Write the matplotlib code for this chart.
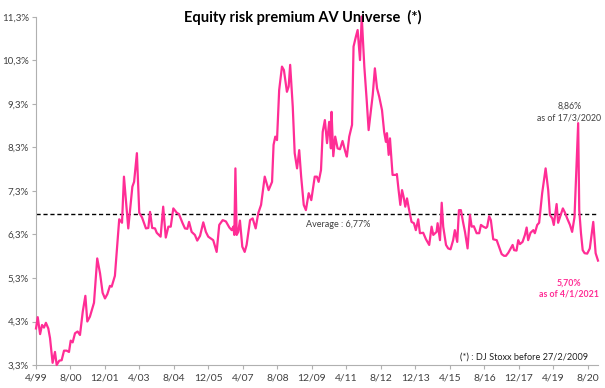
import matplotlib
matplotlib.use("Agg")
import matplotlib.pyplot as plt

plt.rcParams['font.family'] = ['Lato', 'DejaVu Sans']

# months since April 1999, and equity risk premium (%)
months = [0, 0.8, 1.9, 2.8, 3.7, 4.6, 5.7, 6.5, 7.7, 8.8, 9.6, 10.8, 11.9, 13.0, 14.2,
          15.3, 16.1, 17.0, 18.1, 19.3, 20.4, 21.7, 22.9, 23.8, 25.0, 26.9, 28.4, 29.7,
          30.9, 32.0, 33.1, 34.3, 35.1, 36.6, 38.6, 39.9, 40.8, 42.8, 44.7, 45.5, 46.8,
          47.9, 49.2, 51.0, 52.1, 52.9, 53.9, 55.2, 56.0, 57.8, 59.0, 60.2, 61.4, 62.5,
          63.7, 65.3, 66.3, 68.0, 69.1, 70.2, 71.0, 72.2, 73.7, 74.8, 76.1, 77.6, 78.8,
          79.9, 82.2, 83.8, 85.0, 86.6, 88.1, 89.7, 90.8, 91.5, 92.0, 92.5, 93.1, 93.8,
          94.6, 95.7, 96.8, 97.7, 99.3, 100.5, 101.9, 103.1, 104.4, 106.1, 107.9, 109.5,
          110.2, 111.0, 111.8, 112.8, 114.1, 115.0, 116.4, 117.2, 117.9, 119.1, 120.0,
          121.1, 122.1, 123.0, 124.2, 125.2, 126.5, 127.7, 129.3, 130.3, 131.1, 132.2,
          133.0, 134.0, 135.0, 136.0, 136.8, 137.1, 137.9, 138.8, 139.9, 141.0, 142.2,
          143.5, 144.2, 145.3, 146.6, 147.3, 148.4, 149.2, 150.3, 151.1, 152.3, 153.4,
          154.3, 155.4, 156.2, 157.2, 158.2, 159.2, 160.5, 161.5, 162.3, 162.8, 163.6,
          164.2, 165.4, 167.0, 167.4, 168.2, 169.0, 169.8, 170.5, 171.3, 172.1, 173.1,
          174.2, 175.3, 176.2, 177.3, 178.1, 179.6, 180.9, 182.4, 183.5, 184.3, 185.8,
          186.3, 187.4, 188.2, 188.9, 190.2, 191.2, 192.3, 193.5, 194.3, 195.4, 196.2,
          197.1, 198.2, 199.0, 200.2, 201.3, 202.1, 203.1, 204.4, 205.6, 206.4, 207.5,
          208.7, 209.3, 210.2, 211.0, 212.1, 213.7, 214.9, 216.0, 217.1, 218.0, 219.1,
          220.2, 221.1, 221.8, 222.9, 223.7, 224.5, 225.7, 226.8, 227.6, 228.3, 229.4,
          230.7, 231.4, 232.5, 233.4, 234.8, 236.4, 237.6, 238.4, 239.5, 240.2, 241.5,
          242.2, 243.4, 244.4, 245.3, 246.4, 247.7, 248.7, 249.8, 251.5, 252.0, 252.8,
          253.6, 254.5, 255.7, 256.9, 258.5, 259.6, 260.7]
erp = [4.14, 4.40, 4.01, 4.22, 4.16, 4.27, 4.14, 3.92, 3.35, 3.60, 3.30, 3.40, 3.41, 3.63,
       3.63, 3.60, 3.86, 3.82, 4.03, 4.07, 3.99, 4.53, 4.89, 4.30, 4.41, 4.73, 5.75, 5.41,
       4.96, 4.83, 4.93, 5.12, 5.10, 5.35, 6.65, 6.57, 7.63, 6.44, 7.40, 7.51, 8.17,
       6.80, 6.69, 6.44, 6.45, 6.82, 6.45, 6.44, 6.34, 6.25, 6.94, 6.23, 6.48, 6.48,
       6.90, 6.80, 6.77, 6.56, 6.44, 6.43, 6.59, 6.36, 6.29, 6.16, 6.27, 6.58, 6.36,
       6.25, 6.17, 5.90, 6.52, 6.63, 6.60, 6.46, 6.40, 6.48, 6.29, 7.82, 6.29, 6.36,
       6.62, 6.02, 5.90, 6.06, 6.63, 6.67, 6.44, 6.79, 6.98, 7.63, 7.32, 7.51,
       8.36, 8.55, 8.47, 9.62, 10.16, 10.08, 9.58, 9.70, 10.20, 9.24, 8.17,
       7.82, 8.24, 7.63, 6.98, 6.86, 7.25, 7.09, 7.63, 7.63, 7.51, 7.78,
       8.66, 8.93, 8.40, 8.89, 8.28, 9.12, 8.10, 8.55, 8.28, 8.26, 8.45,
       8.20, 8.09, 8.55, 8.82, 10.62, 10.85, 11.00, 10.31, 11.31, 10.16, 9.39,
       8.70, 9.16, 9.51, 10.12, 9.66, 9.47, 9.16, 8.66, 8.43, 8.63, 8.13,
       8.51, 7.67, 7.67, 7.69, 7.32, 6.98, 7.32, 7.17, 6.94, 7.13, 6.86,
       6.59, 6.56, 6.40, 6.65, 6.33, 6.34, 6.19, 6.06, 6.48, 6.29, 6.36,
       6.56, 6.17, 7.03, 6.48, 6.06, 5.98, 5.96, 6.17, 6.40, 6.13, 6.86,
       6.86, 6.56, 6.36, 5.98, 6.75, 6.48, 6.49, 6.33, 6.33, 6.52, 6.48,
       6.45, 6.48, 6.72, 6.63, 6.19, 6.17, 6.00, 5.85, 5.81, 5.81, 5.88,
       5.98, 6.06, 5.94, 5.93, 6.17, 6.08, 6.13, 6.29, 6.46, 6.17, 6.34,
       6.40, 6.33, 6.52, 6.57, 7.25, 7.82, 7.32, 6.75, 6.67, 6.52, 7.00,
       6.57, 6.75, 6.90, 6.81, 6.67, 6.52, 6.36, 6.70, 8.86, 6.86, 6.33,
       5.94, 5.87, 5.86, 5.98, 6.59, 5.87, 5.70]

average = 6.77
tick_months = list(range(0, 257, 16))
tick_labels = ['4/99', '8/00', '12/01', '4/03', '8/04', '12/05', '4/07', '8/08', '12/09',
               '4/11', '8/12', '12/13', '4/15', '8/16', '12/17', '4/19', '8/20']
y_ticks = [3.3, 4.3, 5.3, 6.3, 7.3, 8.3, 9.3, 10.3, 11.3]

pink = '#ff2d95'
grey = '#404040'

fig = plt.figure(figsize=(6.05, 3.88), dpi=100)
ax = fig.add_axes([36 / 605, 23 / 388, 562 / 605, 348 / 388])

ax.plot(months, erp, color=pink, lw=1.6, clip_on=False, zorder=3)
ax.axhline(average, color='black', lw=1.0, ls=(0, (3, 2)), zorder=2)

ax.set_xlim(0, months[-1])
ax.set_ylim(3.3, 11.3)
ax.set_xticks(tick_months)
ax.set_xticklabels(tick_labels)
ax.set_yticks(y_ticks)
ax.set_yticklabels([('%.1f%%' % v).replace('.', ',') for v in y_ticks])

for s in ['top', 'right']:
    ax.spines[s].set_visible(False)
for s in ['left', 'bottom']:
    ax.spines[s].set_color('#b0b0b0')
ax.tick_params(axis='both', colors='#b0b0b0', labelcolor=grey, labelsize=7,
               length=3, direction='out', pad=2)
ax.tick_params(axis='x', labelsize=7.5, pad=3)

ax.text(140, 6.54, 'Average : 6,77%', ha='center', va='center', fontsize=6.5, color=grey)
ax.text(247.5, 9.11, '8,86%\nas of 17/3/2020', ha='center', va='center', fontsize=6.3,
        color=grey, linespacing=1.35)
ax.text(247, 5.06, '5,70%\nas of 4/1/2021', ha='center', va='center', fontsize=6.3,
        color=pink, fontweight='bold', linespacing=1.35)
ax.text(256, 3.48, '(*) : DJ Stoxx before 27/2/2009', ha='right', va='center',
        fontsize=6.6, color='#202020')

fig.text(0.5, 1 - 17 / 388, 'Equity risk premium AV Universe  (*)', ha='center',
         va='center', fontsize=10.5, fontweight='bold', color='black')

fig.savefig('out.png', dpi=100)
